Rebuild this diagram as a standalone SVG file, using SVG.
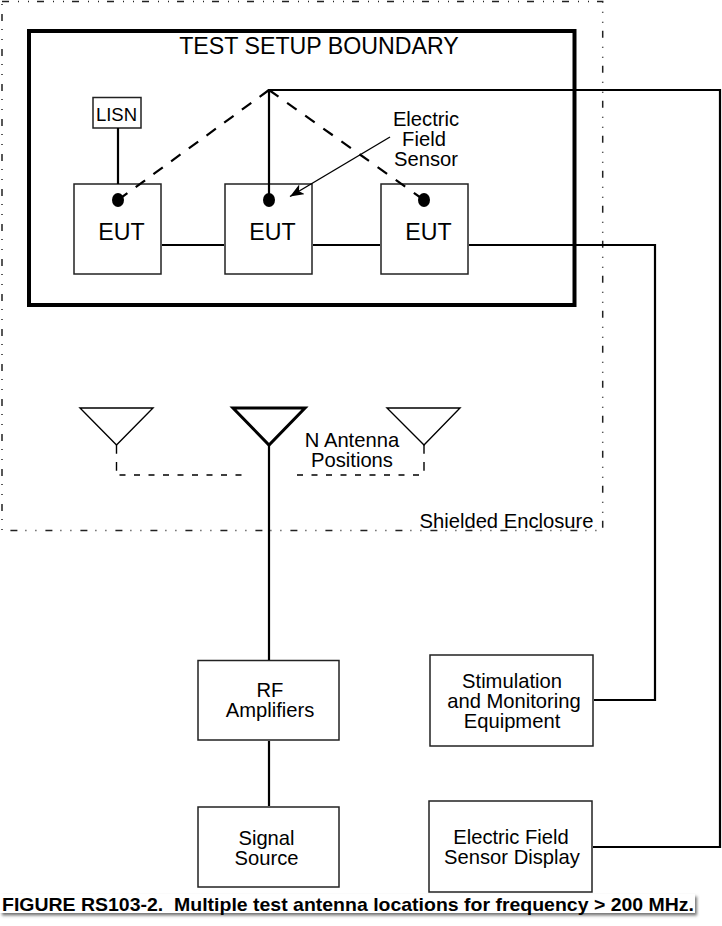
<svg xmlns="http://www.w3.org/2000/svg" width="722" height="926" viewBox="0 0 722 926">
<style>
text{font-family:"Liberation Sans",Arial,sans-serif;fill:#000;text-anchor:middle}
.t20{font-size:20.200px}.t24{font-size:23.200px}
.box{fill:#fff;stroke:#222;stroke-width:1.500}
.wire{fill:none;stroke:#000;stroke-width:2.200}
.thin{fill:none;stroke:#000;stroke-width:1.400}
.dash{fill:none;stroke:#000;stroke-width:2.200;stroke-dasharray:11.600 10.300}
.dashr{fill:none;stroke:#000;stroke-width:2.200;stroke-dasharray:11.600 10.600}
.dash2{fill:none;stroke:#000;stroke-width:1.400;stroke-dasharray:6 8.500}
.dash3{fill:none;stroke:#000;stroke-width:1.400;stroke-dasharray:8.700 8.300}
</style>
<defs>
<marker id="arr" markerUnits="userSpaceOnUse" markerWidth="16" markerHeight="12" refX="14" refY="5.500" orient="auto"><path d="M0 0L14 5.500L0 11L3.500 5.500Z" fill="#000"/></marker>
<filter id="soft" x="-2%" y="-30%" width="104%" height="170%"><feDropShadow dx="2" dy="2.500" stdDeviation="1.800" flood-color="#555" flood-opacity="0.800"/></filter>
</defs>
<rect width="722" height="926" fill="#fff"/>
<g id="enclosure"><rect x="2" y="1.500" width="600.700" height="529" fill="none" stroke="#222" stroke-width="1.500" stroke-dasharray="7 9 1 9 1 8"/><text class="t20" x="506.500" y="528">Shielded Enclosure</text></g>
<g id="boundary"><rect x="29" y="31" width="545.500" height="274" fill="none" stroke="#000" stroke-width="4"/><text class="t24" x="319" y="54">TEST SETUP BOUNDARY</text></g>
<g id="lisn"><rect class="box" x="93" y="97.500" width="48" height="30.500"/><text x="116.500" y="121" font-size="18.500">LISN</text></g>
<g id="eut1"><rect class="box" x="74" y="184" width="87" height="90"/><ellipse cx="118" cy="200" rx="6" ry="7"/><text class="t24" x="121.500" y="240">EUT</text></g>
<g id="eut2"><rect class="box" x="225" y="184" width="87" height="90"/><ellipse cx="269" cy="200" rx="6" ry="7"/><text class="t24" x="272.500" y="240">EUT</text></g>
<g id="eut3"><rect class="box" x="381" y="184" width="87" height="90"/><ellipse cx="424" cy="200" rx="6" ry="7"/><text class="t24" x="428.500" y="240">EUT</text></g>
<g id="sensor-label"><text class="t20" x="426" y="126">Electric</text><text class="t20" x="424" y="146">Field</text><text class="t20" x="426" y="166">Sensor</text></g>
<g id="antenna1"><path class="thin" d="M80 408H153L116.500 445Z"/></g>
<g id="antenna2"><path d="M233 408H305L269 445Z" fill="none" stroke="#000" stroke-width="3"/></g>
<g id="antenna3"><path class="thin" d="M387 408H460L424 445Z"/></g>
<g id="antenna-label"><text class="t20" x="352" y="447">N Antenna</text><text class="t20" x="352" y="467">Positions</text></g>
<g id="rf"><rect class="box" x="198" y="660.500" width="141" height="79.500"/><text class="t20" x="270" y="697">RF</text><text class="t20" x="270" y="717">Amplifiers</text></g>
<g id="signal"><rect class="box" x="198" y="807" width="141" height="80"/><text class="t20" x="266.500" y="845">Signal</text><text class="t20" x="266.500" y="865">Source</text></g>
<g id="stim"><rect class="box" x="430" y="655" width="163" height="91"/><text class="t20" x="512" y="688">Stimulation</text><text class="t20" x="514" y="708">and Monitoring</text><text class="t20" x="512" y="728">Equipment</text></g>
<g id="display"><rect class="box" x="429" y="801" width="163" height="91"/><text class="t20" x="511" y="844">Electric Field</text><text class="t20" x="512" y="864">Sensor Display</text></g>
<g id="connectors">
<path class="wire" d="M118 128V184M162 245H224M313 245H380M469 245H655V700H594M269 445V660M269 741V806"/>
<path class="wire" d="M269 200V90H720V847H593"/>
<path class="dash" d="M118 200L269 90"/>
<path class="dashr" d="M269 90L424 200"/>
<path class="thin" d="M390 137L290 196.500" marker-end="url(#arr)"/>
<path class="dash3" d="M116.500 445V471M424 445V471"/>
<path class="dash2" d="M119.500 475H244M297 475H421"/>
</g>
<g id="caption"><rect x="0" y="894" width="695" height="19" fill="#fff" filter="url(#soft)"/><text x="348" y="910.500" font-size="19" font-weight="bold" textLength="692" lengthAdjust="spacingAndGlyphs" xml:space="preserve">FIGURE RS103-2.  Multiple test antenna locations for frequency &gt; 200 MHz.</text></g>
</svg>
